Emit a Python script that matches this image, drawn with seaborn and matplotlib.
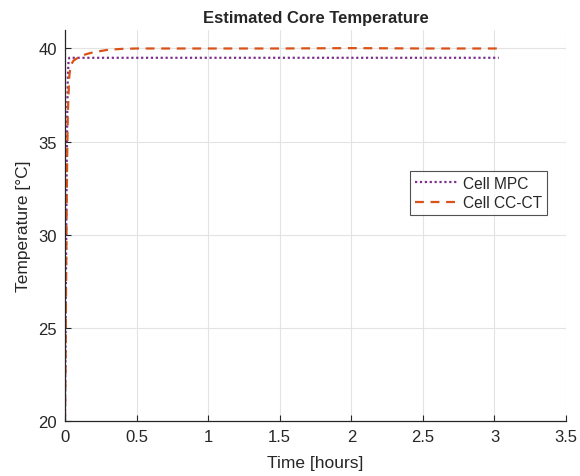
import numpy as np
import pandas as pd
import matplotlib
matplotlib.use("Agg")
import matplotlib.pyplot as plt
import seaborn as sns

# Data (time in hours, temperature in °C)
t_mpc = [0.0, 0.004, 0.008, 0.012, 0.016, 0.02, 0.025, 0.03, 1.0, 2.0, 3.03]
T_mpc = [20.0, 24.0, 29.0, 33.5, 36.5, 38.5, 39.3, 39.5, 39.5, 39.5, 39.5]

t_cc = [0.0, 0.004, 0.008, 0.012, 0.016, 0.02, 0.03, 0.04, 0.06, 0.08, 0.1, 0.15, 0.2, 0.3, 0.4, 0.5, 1.0, 1.5, 2.0, 2.5, 3.03]
T_cc = [20.0, 23.0, 27.5, 31.5, 34.5, 36.5, 38.5, 39.1, 39.35, 39.45, 39.55, 39.7, 39.8, 39.93, 39.98, 40.0, 40.0, 40.0, 40.02, 40.0, 40.0]

labels = ["Cell MPC", "Cell CC-CT"]
colors = ["#7E2F8E", "#D95319"]

df = pd.concat([
    pd.DataFrame({"t": t_mpc, "T": T_mpc, "series": labels[0]}),
    pd.DataFrame({"t": t_cc, "T": T_cc, "series": labels[1]}),
], ignore_index=True)

sns.set_style("white")
plt.rcParams["font.family"] = ["Liberation Sans", "DejaVu Sans"]

fig = plt.figure(figsize=(5.8, 4.77), dpi=100)
ax = fig.add_axes([0.112, 0.1153, 0.864, 0.82])

sns.lineplot(data=df, x="t", y="T", hue="series", style="series",
             palette=dict(zip(labels, colors)),
             dashes={labels[0]: (1, 1.2), labels[1]: (4, 3)},
             linewidth=1.6, ax=ax, sort=False, estimator=None)

ax.set_xlim(0, 3.5)
ax.set_ylim(20, 41)
ax.set_xticks(np.arange(0, 3.51, 0.5))
ax.set_xticklabels(["0", "0.5", "1", "1.5", "2", "2.5", "3", "3.5"])
ax.set_yticks([20, 25, 30, 35, 40])
ax.grid(True, color="#e3e3e3", linewidth=0.8)
for s in ["top", "right"]:
    ax.spines[s].set_visible(False)
for s in ["left", "bottom"]:
    ax.spines[s].set_color("#262626")
    ax.spines[s].set_linewidth(0.9)
ax.tick_params(axis="both", direction="in", length=4, labelsize=12,
               colors="#262626", bottom=True, left=True, pad=6)
ax.set_xlabel("Time [hours]", fontsize=12.5, color="#262626", labelpad=8)
ax.set_ylabel("Temperature [°C]", fontsize=12.5, color="#262626", labelpad=5)
ax.set_title("Estimated Core Temperature", fontsize=12, fontweight="bold", pad=6)

leg = ax.legend(loc="upper right", bbox_to_anchor=(0.962, 0.639), fontsize=11.2,
                frameon=True, fancybox=False, edgecolor="#262626", borderaxespad=0,
                handlelength=2.8, borderpad=0.3, labelspacing=0.3, handletextpad=0.3)
leg.get_frame().set_linewidth(0.8)

fig.savefig("out.png", dpi=100)
